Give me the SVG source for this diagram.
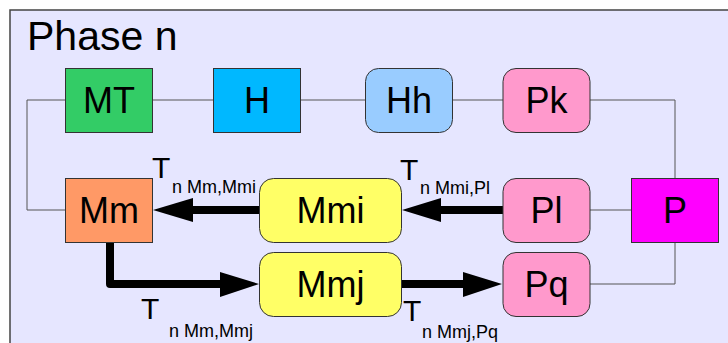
<svg xmlns="http://www.w3.org/2000/svg" width="728" height="343" viewBox="0 0 728 343">
<style>
.node{stroke:#333;stroke-width:1}
.lbl{font-family:"Liberation Sans",Arial,sans-serif;font-size:36px;text-anchor:middle;fill:#000}
.thin{fill:none;stroke:#555;stroke-width:1}
.thick{fill:none;stroke:#000;stroke-width:8;stroke-linejoin:round}
.head{fill:#000}
.t{font-family:"Liberation Sans",Arial,sans-serif;font-size:30px;fill:#000}
.sub{font-family:"Liberation Sans",Arial,sans-serif;font-size:18px;fill:#000}
</style>
<rect x="10" y="10" width="730" height="350" fill="#e6e6ff" stroke="#444" stroke-width="1.5"/>
<text x="27" y="50" font-family="Liberation Sans, Arial, sans-serif" font-size="41" fill="#000">Phase n</text>
<g id="connectors">
<path class="thin" d="M65,100 H27 V210 H65"/>
<path class="thin" d="M153,100 H213"/>
<path class="thin" d="M301,100 H365"/>
<path class="thin" d="M452,100 H503"/>
<path class="thin" d="M590,100 H675 V178"/>
<path class="thin" d="M590,210 H631"/>
<path class="thin" d="M675,242 V284 H590"/>
<path class="thick" d="M259,210 H190"/>
<polygon class="head" points="153,210 193,198 193,222"/>
<path class="thick" d="M503,210 H438"/>
<polygon class="head" points="402,210 441,198 441,222"/>
<path class="thick" d="M110,242 V284 H223"/>
<polygon class="head" points="259,284 220,272 220,297"/>
<path class="thick" d="M401,284 H466"/>
<polygon class="head" points="502,284 463,272 463,297"/>
</g>
<g id="labels">
<text class="t" x="152" y="178">T</text><text class="sub" x="172" y="193">n Mm,Mmi</text>
<text class="t" x="400" y="180">T</text><text class="sub" x="420" y="194">n Mmi,Pl</text>
<text class="t" x="141" y="319">T</text><text class="sub" x="169" y="337">n Mm,Mmj</text>
<text class="t" x="403" y="321">T</text><text class="sub" x="422" y="338">n Mmj,Pq</text>
</g>
<g id="MT"><rect class="node" x="65.5" y="68.5" width="87" height="64" fill="#33cc66"/><text class="lbl" x="109" y="113">MT</text></g>
<g id="H"><rect class="node" x="213.5" y="68.5" width="87" height="64" fill="#00b8ff"/><text class="lbl" x="257" y="113">H</text></g>
<g id="Hh"><rect class="node" x="365.5" y="68.5" width="87" height="64" rx="13" fill="#99ccff"/><text class="lbl" x="409" y="113">Hh</text></g>
<g id="Pk"><rect class="node" x="503" y="68.5" width="87" height="64" rx="13" fill="#ff99cc"/><text class="lbl" x="546.5" y="113">Pk</text></g>
<g id="Mm"><rect class="node" x="65.5" y="178.5" width="87" height="64" fill="#ff9966"/><text class="lbl" x="109" y="223">Mm</text></g>
<g id="Mmi"><rect class="node" x="259.5" y="178.5" width="142" height="64" rx="14" fill="#ffff66"/><text class="lbl" x="330.5" y="223">Mmi</text></g>
<g id="Pl"><rect class="node" x="503" y="178.5" width="87" height="64" rx="13" fill="#ff99cc"/><text class="lbl" x="546.5" y="223">Pl</text></g>
<g id="P"><rect class="node" x="631.5" y="178.5" width="87" height="64" fill="#ff00ff"/><text class="lbl" x="675" y="223">P</text></g>
<g id="Mmj"><rect class="node" x="259.5" y="252.5" width="142" height="64" rx="14" fill="#ffff66"/><text class="lbl" x="330.5" y="297">Mmj</text></g>
<g id="Pq"><rect class="node" x="503" y="252.5" width="87" height="64" rx="13" fill="#ff99cc"/><text class="lbl" x="546.5" y="297">Pq</text></g>
</svg>
